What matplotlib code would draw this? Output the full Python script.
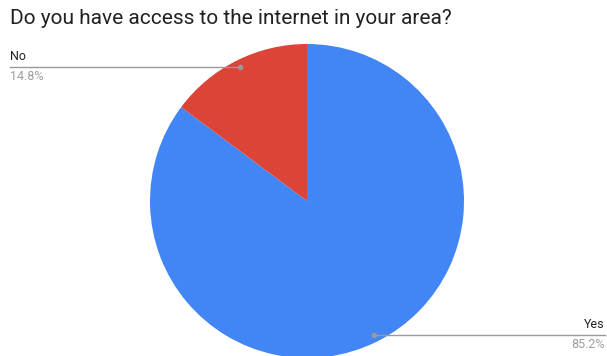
import numpy as np
import matplotlib.pyplot as plt

plt.rcParams['font.family'] = ['Roboto', 'DejaVu Sans']

labels = ['Yes', 'No']
shares = [85.2, 14.8]
colors = ['#4285F4', '#DB4437']
title = 'Do you have access to the internet in your area?'

W, H = 607, 356
fig = plt.figure(figsize=(W / 100, H / 100), dpi=100)
ax = fig.add_axes([0, 0, 1, 1])

cx, cy, r = 307, H - 201, 157
wedges, _ = ax.pie(shares, colors=colors, startangle=90, counterclock=False,
                   center=(cx, cy), radius=r, frame=True,
                   wedgeprops=dict(linewidth=0))
ax.set_xlim(0, W)
ax.set_ylim(0, H)
ax.axis('off')

# leader lines with labels
for w, lab, val in zip(wedges, labels, shares):
    mid = np.deg2rad((w.theta1 + w.theta2) / 2)
    px = cx + 0.955 * r * np.cos(mid)
    py = cy + 0.955 * r * np.sin(mid)
    if np.cos(mid) < 0:
        ex, ha = 10, 'left'
    else:
        ex, ha = 605, 'right'
    ax.plot([px, ex], [py, py], color='#9a9a9a', lw=1, zorder=5)
    ax.plot(px, py, 'o', color='#9a9a9a', ms=3, zorder=6)
    ax.text(ex, py + 4, lab, ha=ha, va='bottom', fontsize=9, color='#222222')
    ax.text(ex, py - 3, f'{val:.1f}%', ha=ha, va='top', fontsize=9, color='#9e9e9e')

fig.text(10 / W, 1 - 18 / H, title, ha='left', va='center', fontsize=15, color='#212121')

fig.savefig('out.png', dpi=100)
